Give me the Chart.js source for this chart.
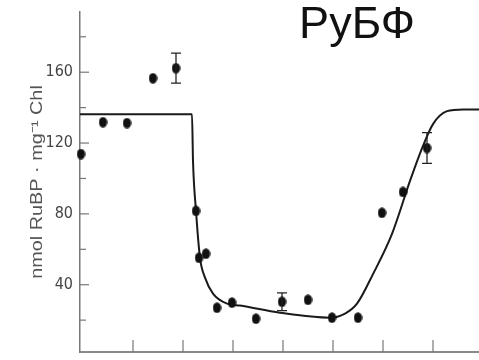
<!DOCTYPE html>
<html>
<head>
<meta charset="utf-8">
<script src="https://cdn.jsdelivr.net/npm/chart.js@4/dist/chart.umd.min.js"></script>
<style>
  html, body { margin: 0; padding: 0; background: #fff; }
  #wrap { width: 479px; height: 360px; position: relative; }
</style>
</head>
<body>
<div id="wrap"><canvas id="c" width="479" height="360"></canvas></div>
<script>
// Measured RuBP pool (time, value) with error bars on a few samples
const sampleTime = [-0.04, 0.40, 0.88, 1.40, 1.86, 2.26, 2.32, 2.46, 2.68, 2.98, 3.46, 3.98, 4.50, 4.98, 5.50, 5.98, 6.40, 6.88];
const rubpLevel  = [113.8, 131.8, 131.3, 156.6, 162.3, 81.7, 55.2, 57.5, 27.0, 29.9, 20.8, 30.4, 31.5, 21.4, 21.4, 80.6, 92.4, 117.2];
const errIndex   = [4, 11, 17];
const errSize    = [8.5, 5.0, 8.7];

// Fitted model curve
const fitTime  = [-0.06, 2.18, 2.20, 2.26, 2.34, 2.44, 2.60, 2.88, 3.14, 3.94, 4.94, 5.24, 5.48, 5.80, 6.18, 6.54, 6.78, 7.00, 7.28, 7.60, 7.92];
const fitLevel = [136.3, 136.3, 110.0, 81.7, 55.2, 44.0, 35.0, 29.3, 28.2, 24.2, 21.4, 23.7, 29.3, 46.0, 68.7, 98.6, 117.0, 130.7, 138.0, 139.0, 139.0];

// Axis ticks
const xTicks = [1, 2, 3, 4, 5, 6, 7];
const yTicks = [20, 40, 60, 80, 100, 120, 140, 160, 180];
const yLabelled = [40, 80, 120, 160];

const titleText = 'РуБФ';
const yTitle = 'nmol RuBP · mg⁻¹ Chl';

// slightly tall dot, as in the printed figure
const dot = document.createElement('canvas');
dot.width = 9; dot.height = 11;
{
  const g = dot.getContext('2d');
  g.fillStyle = '#111';
  g.beginPath();
  g.ellipse(4.5, 5.5, 4.2, 5.2, 0, 0, Math.PI * 2);
  g.fill();
}

const noPadding = s => { s.paddingTop = 0; s.paddingBottom = 0; s.paddingLeft = 0; s.paddingRight = 0; };

const decorations = {
  id: 'decorations',
  afterDatasetsDraw(chart) {
    const ctx = chart.ctx;
    const xs = chart.scales.x, ys = chart.scales.y;
    const area = chart.chartArea;
    ctx.save();
    // error bars
    ctx.strokeStyle = '#222';
    ctx.lineWidth = 1.3;
    errIndex.forEach((i, k) => {
      const px = xs.getPixelForValue(sampleTime[i]);
      const top = ys.getPixelForValue(rubpLevel[i] + errSize[k]);
      const bot = ys.getPixelForValue(rubpLevel[i] - errSize[k]);
      ctx.beginPath();
      ctx.moveTo(px, top); ctx.lineTo(px, bot);
      ctx.moveTo(px - 5, top); ctx.lineTo(px + 5, top);
      ctx.moveTo(px - 5, bot); ctx.lineTo(px + 5, bot);
      ctx.stroke();
    });
    // inward tick marks
    ctx.strokeStyle = '#777';
    ctx.lineWidth = 1.2;
    xTicks.forEach(v => {
      const px = xs.getPixelForValue(v);
      ctx.beginPath();
      ctx.moveTo(px, area.bottom); ctx.lineTo(px, area.bottom - 12);
      ctx.stroke();
    });
    yTicks.forEach(v => {
      const py = ys.getPixelForValue(v);
      const len = yLabelled.includes(v) ? 9 : 6;
      ctx.beginPath();
      ctx.moveTo(area.left, py); ctx.lineTo(area.left + len, py);
      ctx.stroke();
    });
    ctx.restore();
  },
  afterDraw(chart) {
    const ctx = chart.ctx;
    const area = chart.chartArea;
    ctx.save();
    // heading
    ctx.fillStyle = '#111';
    ctx.font = '45px "Liberation Sans", Arial, sans-serif';
    ctx.textAlign = 'center';
    ctx.textBaseline = 'alphabetic';
    ctx.fillText(titleText, 357, 38);
    // vertical axis title, drawn a little elongated
    ctx.translate(42, (area.top + area.bottom) / 2);
    ctx.rotate(-Math.PI / 2);
    ctx.scale(1.24, 1);
    ctx.fillStyle = '#555';
    ctx.font = '16px "Liberation Sans", Arial, sans-serif';
    ctx.fillText(yTitle, 0, 0);
    ctx.restore();
  }
};

new Chart(document.getElementById('c'), {
  type: 'scatter',
  data: {
    datasets: [
      {
        label: 'model',
        data: fitTime.map((t, i) => ({ x: t, y: fitLevel[i] })),
        showLine: true,
        borderColor: '#1a1a1a',
        borderWidth: 2,
        pointRadius: 0,
        cubicInterpolationMode: 'monotone',
        clip: false,
        order: 2
      },
      {
        label: 'RuBP',
        data: sampleTime.map((t, i) => ({ x: t, y: rubpLevel[i] })),
        pointStyle: dot,
        pointRadius: 5,
        clip: false,
        order: 1
      }
    ]
  },
  options: {
    responsive: false,
    animation: false,
    layout: { autoPadding: false, padding: { top: 12, right: 0, bottom: 0, left: 0 } },
    plugins: { legend: { display: false }, tooltip: { enabled: false } },
    scales: {
      x: {
        type: 'linear',
        min: -0.06,
        max: 7.92,
        afterBuildTicks: s => { s.ticks = xTicks.map(v => ({ value: v })); },
        ticks: { display: false },
        grid: { display: false, drawTicks: false },
        border: { display: true, color: '#8a8a8a', width: 2 },
        afterFit: s => { s.height = 8; noPadding(s); }
      },
      y: {
        min: 2,
        max: 194,
        afterBuildTicks: s => { s.ticks = yTicks.map(v => ({ value: v })); },
        ticks: {
          padding: 7,
          color: '#444',
          font: { family: '"Liberation Sans Narrow", "DejaVu Sans Condensed", Arial, sans-serif', size: 16 },
          callback: v => yLabelled.includes(v) ? String(v) : ''
        },
        grid: { display: false, drawTicks: false },
        border: { display: true, color: '#777', width: 1.5 },
        title: { display: false },
        afterFit: s => { s.width = 80; noPadding(s); }
      }
    }
  },
  plugins: [decorations]
});
</script>
</body>
</html>
